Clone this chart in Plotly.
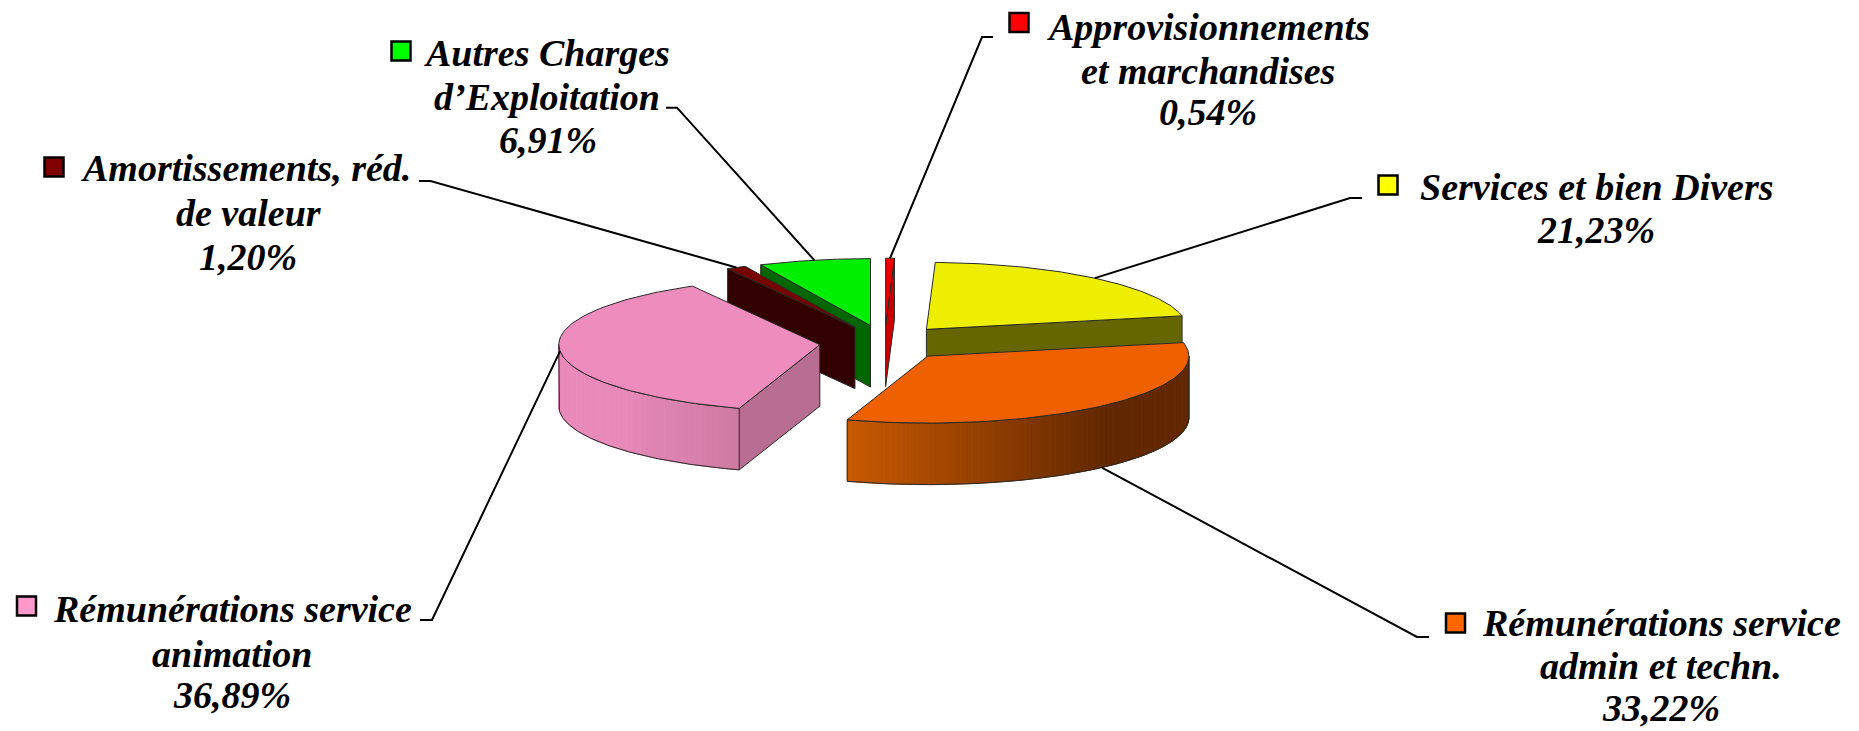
import numpy as np
import plotly.graph_objects as go

# ---- data ----
categories = ["Approvisionnements et marchandises", "Services et bien Divers",
              "Rémunérations service admin et techn.", "Rémunérations service animation",
              "Amortissements, réd. de valeur", "Autres Charges d'Exploitation"]
values = [0.54, 21.23, 33.22, 36.89, 1.20, 6.91]
value_labels = ["0,54%", "21,23%", "33,22%", "36,89%", "1,20%", "6,91%"]
label_lines = [["Approvisionnements", "et marchandises"], ["Services et bien Divers"],
               ["Rémunérations service", "admin et techn."], ["Rémunérations service", "animation"],
               ["Amortissements, réd.", "de valeur"], ["Autres Charges", "d’Exploitation"]]

# ---- styles ----
top_colors = ["#ee0000", "#eeee00", "#ee6000", "#ee8cbd", "#770000", "#00ee00"]
side_colors = ["#cc0000", "#666600", "#662a00", "#b76e92", "#330000", "#006600"]
key_colors = ["#ff0000", "#ffff00", "#ff6600", "#ff99cc", "#800000", "#00ff00"]
wall_from = {2: (200, 90, 0), 3: (232, 138, 186)}
wall_to = {2: (98, 40, 0), 3: (205, 122, 162)}
wall_hold = {2: (848, 1105), 3: (618, 740)}
EDGE = "#2a2a2a"
FONT = "Liberation Serif"
FSIZE = 38

# ---- projection layout ----
CX, CY, RX, RY, DEPTH, EX, EY = 884.5, 342.9, 261, 67, 61.5, 65, 17.7
draw_order = [0, 1, 5, 4, 3, 2]
key_xy = [(1019, 22.5), (1388, 185), (1455.5, 623), (26.5, 606), (54, 167), (401, 51)]
text_x = [[1208, 1208, 1208], [1597, 1596], [1661, 1661, 1661], [232, 232, 232], [246, 249, 248], [547, 547, 548]]
text_y = [[27, 71, 112], [187, 230], [623, 666, 708], [609, 654, 695], [168, 213, 257], [53, 97, 140]]
elbows = [[(993, 37), (982, 37)], [(1362, 198), (1350, 198)], [(1429, 637), (1417, 637)],
          [(420, 620), (432, 620)], [(419, 181), (430.5, 181)], [(666, 107.7), (677, 107.7)]]
leader_wall = [0, 0, 1, 0, 0, 0]

fig = go.Figure()


def poly(x, y, fill, line=EDGE, w=1):
    fig.add_trace(go.Scatter(x=x, y=y, mode="lines", fill="toself", fillcolor=fill,
                             line=dict(color=line, width=w), hoverinfo="skip", showlegend=False))


total = sum(values)
edges = np.cumsum([0] + values) / total * 2 * np.pi
apex = []
for a, b in zip(edges[:-1], edges[1:]):
    m = (a + b) / 2
    apex.append((CX + EX * np.sin(m), CY - EY * np.cos(m)))


def rim(i, t):
    return apex[i][0] + RX * np.sin(t), apex[i][1] - RY * np.cos(t)


for i in draw_order:
    a, b = edges[i], edges[i + 1]
    ax, ay = apex[i]
    # cut faces
    for t, visible in ((a, np.sin(a) < -1e-6), (b, np.sin(b) > 1e-6)):
        if visible:
            rx, ry = rim(i, t)
            poly([ax, rx, rx, ax, ax], [ay, ry, ry + DEPTH, ay + DEPTH, ay], side_colors[i])
    # outer wall, front half only
    lo, hi = max(a, np.pi / 2), min(b, 3 * np.pi / 2)
    if hi > lo and i in wall_from:
        ts = np.linspace(lo, hi, 90)
        xs, ys = rim(i, ts)
        x0, x1 = wall_hold[i]
        for k in range(len(ts) - 1):
            f = np.clip(((xs[k] + xs[k + 1]) / 2 - x0) / (x1 - x0), 0, 1)
            c = [int(p + (q - p) * f) for p, q in zip(wall_from[i], wall_to[i])]
            col = f"rgb({c[0]},{c[1]},{c[2]})"
            poly([xs[k], xs[k + 1], xs[k + 1], xs[k], xs[k]],
                 [ys[k], ys[k + 1], ys[k + 1] + DEPTH, ys[k] + DEPTH, ys[k]], col, line=col)
        fig.add_trace(go.Scatter(x=list(xs) + list(xs[::-1]) + [xs[0]],
                                 y=list(ys) + list(ys[::-1] + DEPTH) + [ys[0]], mode="lines",
                                 line=dict(color=EDGE, width=1), hoverinfo="skip", showlegend=False))
    # top face
    ts = np.linspace(a, b, 90)
    xs, ys = rim(i, ts)
    poly([ax] + list(xs) + [ax], [ay] + list(ys) + [ay], top_colors[i])

# leader lines
for i in range(len(values)):
    m = (edges[i] + edges[i + 1]) / 2
    rx, ry = rim(i, m)
    ry += DEPTH * leader_wall[i]
    fig.add_trace(go.Scatter(x=[elbows[i][0][0], elbows[i][1][0], rx],
                             y=[elbows[i][0][1], elbows[i][1][1], ry], mode="lines",
                             line=dict(color="#000000", width=2), hoverinfo="skip", showlegend=False))

# legend keys
fig.add_trace(go.Scatter(x=[p[0] for p in key_xy], y=[p[1] for p in key_xy], mode="markers",
                         marker=dict(symbol="square", size=19, color=key_colors,
                                     line=dict(color="#000000", width=2.5)),
                         hoverinfo="skip", showlegend=False))

# labels
annotations = []
for i in range(len(values)):
    for tx, ty, s in zip(text_x[i], text_y[i], label_lines[i] + [value_labels[i]]):
        annotations.append(dict(x=tx, y=ty, text=f"<b><i>{s}</i></b>", showarrow=False, xanchor="center",
                                yanchor="middle", font=dict(family=FONT, size=FSIZE, color="#000000")))

fig.update_layout(width=1859, height=731, margin=dict(l=0, r=0, t=0, b=0), showlegend=False,
                  paper_bgcolor="#ffffff", plot_bgcolor="#ffffff", annotations=annotations,
                  xaxis=dict(range=[0, 1859], visible=False, fixedrange=True),
                  yaxis=dict(range=[731, 0], visible=False, fixedrange=True))
fig.write_html("out.html", config=dict(displayModeBar=False),
               post_script="document.body.style.margin='0';document.documentElement.style.overflow='hidden';")
